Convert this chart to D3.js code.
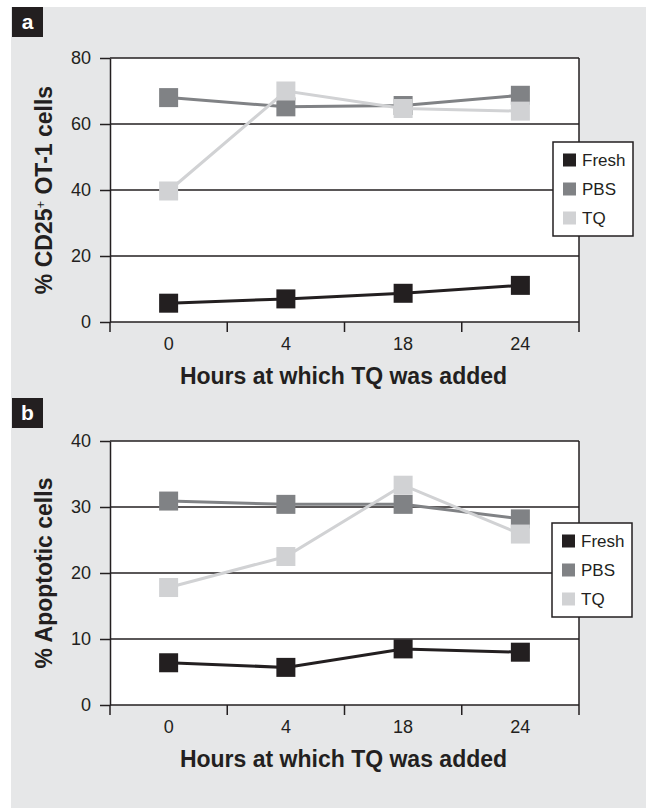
<!DOCTYPE html>
<html>
<head>
<meta charset="utf-8">
<script src="https://cdn.jsdelivr.net/npm/d3@7"></script>
<style>
  body { margin: 0; background: #fff; }
  text { font-family: "Liberation Sans", Arial, sans-serif; fill: #231f20; }
</style>
</head>
<body>
<div id="chart"></div>
<script>
// data
const hours = ["0", "4", "18", "24"];
const seriesNames = ["Fresh", "PBS", "TQ"];
const seriesColors = ["#231f20", "#808285", "#d1d2d4"];

const cd25Fresh = [5.7, 7.0, 8.7, 11.1];
const cd25PBS = [68.0, 65.2, 65.6, 68.7];
const cd25TQ = [39.7, 70.0, 64.7, 63.9];
const cd25Ticks = [0, 20, 40, 60, 80];

const apoFresh = [6.4, 5.7, 8.5, 8.0];
const apoPBS = [30.9, 30.4, 30.4, 28.2];
const apoTQ = [17.8, 22.5, 33.3, 25.9];
const apoTicks = [0, 10, 20, 30, 40];

const xTitle = "Hours at which TQ was added";

const W = 647, H = 809;
const left = 110, right = 579;
const ink = "#231f20";

const svg = d3.select("#chart")
  .append("svg")
    .attr("width", W)
    .attr("height", H);

// grey backdrop
svg.append("rect")
  .attr("x", 11).attr("y", 7)
  .attr("width", 635).attr("height", 801)
  .attr("fill", "#e6e7e8");

function drawPanel(p) {
  const g = svg.append("g");

  // panel letter
  g.append("rect")
    .attr("x", 12).attr("y", p.labelY)
    .attr("width", 31).attr("height", 30)
    .attr("fill", ink);
  g.append("text")
    .attr("x", 27.5).attr("y", p.labelY + 22)
    .attr("text-anchor", "middle")
    .style("fill", "#fff")
    .style("font-weight", "bold")
    .style("font-size", "21px")
    .text(p.label);

  const x = d3.scaleBand().domain(hours).range([left, right]);
  const y = d3.scaleLinear().domain([0, p.max]).range([p.bottom, p.top]);

  g.append("rect")
    .attr("x", left).attr("y", p.top)
    .attr("width", right - left).attr("height", p.bottom - p.top)
    .attr("fill", "#fff");

  // gridlines
  g.append("g")
    .selectAll("line")
    .data(p.ticks)
    .join("line")
      .attr("x1", left).attr("x2", right)
      .attr("y1", d => y(d)).attr("y2", d => y(d))
      .attr("stroke", ink).attr("stroke-width", 1.5);

  // right border
  g.append("line")
    .attr("x1", right).attr("x2", right)
    .attr("y1", p.top).attr("y2", p.bottom)
    .attr("stroke", ink).attr("stroke-width", 1.5);

  // y axis
  const yAxis = g.append("g")
    .attr("transform", `translate(${left},0)`)
    .call(d3.axisLeft(y).tickValues(p.ticks).tickSize(10).tickSizeOuter(0).tickPadding(9));
  yAxis.selectAll("path, line").attr("stroke", ink).attr("stroke-width", 1.5);
  yAxis.selectAll("text")
    .style("font-family", "'Liberation Sans', Arial, sans-serif")
    .style("font-size", "18px")
    .style("fill", ink);

  // x ticks sit on category boundaries
  const bounds = hours.map(h => x(h)).concat([right]);
  g.append("g")
    .selectAll("line")
    .data(bounds)
    .join("line")
      .attr("x1", d => d).attr("x2", d => d)
      .attr("y1", p.bottom).attr("y2", p.bottom + 10)
      .attr("stroke", ink).attr("stroke-width", 1.5);

  const xAxis = g.append("g")
    .attr("transform", `translate(0,${p.bottom})`)
    .call(d3.axisBottom(x).tickSize(0).tickPadding(15));
  xAxis.select(".domain").remove();
  xAxis.selectAll("text")
    .style("font-family", "'Liberation Sans', Arial, sans-serif")
    .style("font-size", "18px")
    .style("fill", ink);

  // axis titles
  g.append("text")
    .attr("x", (left + right) / 2 - 1)
    .attr("y", p.bottom + 62)
    .attr("text-anchor", "middle")
    .style("font-weight", "bold")
    .style("font-size", "23px")
    .text(xTitle);

  const yt = g.append("text")
    .attr("transform", `translate(52,${(p.top + p.bottom) / 2}) rotate(-90)`)
    .attr("text-anchor", "middle")
    .style("font-weight", "bold")
    .style("font-size", "23px");
  p.yTitle.forEach(part => {
    const t = yt.append("tspan").text(part.t);
    if (part.sup) t.attr("baseline-shift", "super").style("font-size", "13px").style("font-weight", "normal");
  });

  // series
  const line = d3.line()
    .x((d, i) => x(hours[i]) + x.bandwidth() / 2)
    .y(d => y(d));

  p.series.forEach((vals, si) => {
    g.append("path")
      .datum(vals)
      .attr("d", line)
      .attr("fill", "none")
      .attr("stroke", seriesColors[si])
      .attr("stroke-width", 3);
    g.append("g")
      .selectAll("rect")
      .data(vals)
      .join("rect")
        .attr("x", (d, i) => x(hours[i]) + x.bandwidth() / 2 - 9.5)
        .attr("y", d => y(d) - 9.5)
        .attr("width", 19).attr("height", 19)
        .attr("fill", seriesColors[si]);
  });

  // legend
  const lg = g.append("g").attr("transform", `translate(${p.legendX},${p.legendY})`);
  lg.append("rect")
    .attr("width", 80).attr("height", 94)
    .attr("fill", "#fff")
    .attr("stroke", ink).attr("stroke-width", 1.5);
  const items = lg.selectAll("g.item")
    .data(seriesNames)
    .join("g")
      .attr("class", "item")
      .attr("transform", (d, i) => `translate(0,${18 + i * 29})`);
  items.append("rect")
    .attr("x", 10).attr("y", -6.5)
    .attr("width", 13).attr("height", 13)
    .attr("fill", (d, i) => seriesColors[i]);
  items.append("text")
    .attr("x", 29).attr("dy", "0.36em")
    .style("font-size", "17px")
    .text(d => d);
}

drawPanel({
  label: "a", labelY: 7,
  top: 58, bottom: 322, max: 80, ticks: cd25Ticks,
  series: [cd25Fresh, cd25PBS, cd25TQ],
  yTitle: [{t: "% CD25"}, {t: "+", sup: true}, {t: " OT-1 cells"}],
  legendX: 553, legendY: 142
});

drawPanel({
  label: "b", labelY: 398,
  top: 441, bottom: 705, max: 40, ticks: apoTicks,
  series: [apoFresh, apoPBS, apoTQ],
  yTitle: [{t: "% Apoptotic cells"}],
  legendX: 552, legendY: 523
});
</script>
</body>
</html>
